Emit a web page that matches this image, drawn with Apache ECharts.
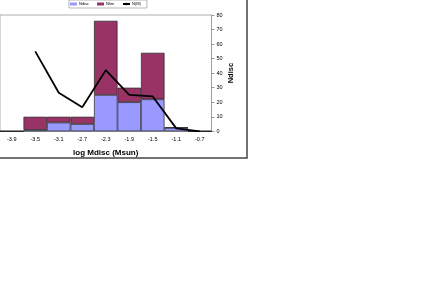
<!DOCTYPE html>
<html><head><meta charset="utf-8">
<script src="https://cdn.jsdelivr.net/npm/echarts@6/dist/echarts.min.js"></script>
<style>html,body{margin:0;padding:0;background:#fff;}#c{width:436px;height:300px;}</style>
</head><body><div id="c"></div>
<script>
const categories = ['-3.9','-3.5','-3.1','-2.7','-2.3','-1.9','-1.5','-1.1','-0.7'];
const ndisc = [0, 1, 6, 5, 25, 20, 22, 2.5, 0];
const nlim = [0, 9, 4, 5, 51, 10, 32, 0, 0];
const nm = [null, 55, 26.5, 16.5, 42, 25, 24, 2, 0];
const yTicks = {min: 0, max: 80, interval: 10};

const chart = echarts.init(document.getElementById('c'), null, {renderer: 'canvas'});
const F = 'Liberation Sans, Arial, sans-serif';
chart.setOption({
  animation: false,
  backgroundColor: '#fff',
  graphic: [{
    type: 'rect', z: -1, silent: true,
    shape: {x: -10, y: -10, width: 257, height: 168},
    style: {fill: 'none', stroke: '#444', lineWidth: 1.5}
  }],
  legend: {
    top: 0, left: 69, itemGap: 8, itemWidth: 7, itemHeight: 3,
    padding: [2, 6, 2, 1],
    borderColor: '#888', borderWidth: 0.6,
    itemStyle: {borderWidth: 0},
    textStyle: {fontSize: 4, fontFamily: F, color: '#000', padding: [0,0,0,-3]},
    data: [
      {name: 'Ndisc', icon: 'rect'},
      {name: 'Nlim', icon: 'rect'},
      {name: 'N(M)'}
    ]
  },
  grid: {left: -2, right: 224.5, top: 15, bottom: 168.7, show: true, borderColor: '#999', borderWidth: 0.8, backgroundColor: '#fff'},
  xAxis: {
    type: 'category', data: categories,
    axisLine: {show: true, lineStyle: {color: '#999', width: 0.8}},
    axisTick: {show: false},
    axisLabel: {fontSize: 5.5, fontFamily: F, color: '#000', margin: 5},
    name: 'log Mdisc (Msun)', nameLocation: 'middle', nameGap: 17,
    nameTextStyle: {fontSize: 8, fontWeight: 'bold', fontFamily: F, color: '#000'}
  },
  yAxis: {
    type: 'value', position: 'right', min: yTicks.min, max: yTicks.max, interval: yTicks.interval,
    splitLine: {show: false},
    axisLine: {show: true, lineStyle: {color: '#999', width: 0.8}},
    axisTick: {show: true, length: 3, lineStyle: {color: '#999'}},
    axisLabel: {fontSize: 5.5, fontFamily: F, color: '#000', margin: 5},
    name: 'Ndisc', nameLocation: 'middle', nameGap: 15, nameRotate: 90,
    nameTextStyle: {fontSize: 7.5, fontWeight: 'bold', fontFamily: F, color: '#000'}
  },
  series: [
    {name: 'Ndisc', type: 'bar', stack: 'a', data: ndisc, barCategoryGap: '0%',
     itemStyle: {color: '#9999FF', borderColor: '#222', borderWidth: 0.7}},
    {name: 'Nlim', type: 'bar', stack: 'a', data: nlim, barCategoryGap: '0%',
     itemStyle: {color: '#993366', borderColor: '#222', borderWidth: 0.7}},
    {name: 'N(M)', type: 'line', data: nm, symbol: 'none', z: 5,
     lineStyle: {color: '#000', width: 1.8}, itemStyle: {color: '#000'}}
  ]
});
</script></body></html>
